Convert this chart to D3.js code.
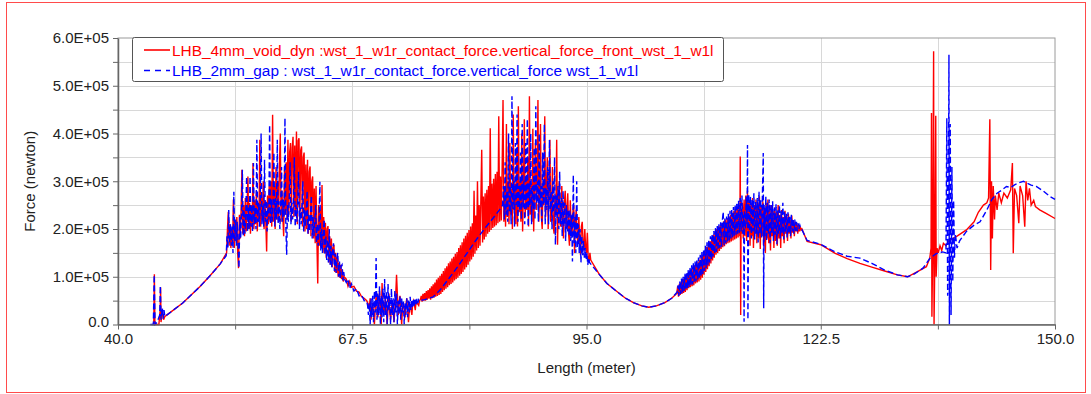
<!DOCTYPE html>
<html>
<head>
<meta charset="utf-8">
<script src="https://cdn.jsdelivr.net/npm/d3@7/dist/d3.min.js"></script>
<style>
  body { margin: 0; background: #fff; }
  svg text { font-family: "Liberation Sans", Arial, sans-serif; }
</style>
</head>
<body>
<svg></svg>
<script>
// length in meter, force in kN (multiplied by 1000 when drawn)
var redSeries = [
  [44.0,0],[44.2,0],[44.27,105],[44.33,0],[44.8,0],[44.95,30],[45.0,78],[45.05,5],[45.2,30],[45.35,10],[45.5,17],[45.6,18],
  [47.6,45],[49.6,79],[50.8,102],[52.0,127],
  [52.75,150],[52.85,200],[52.95,236],[53.05,165],[53.15,210],[53.25,160],[53.35,200],[53.45,170],[53.55,262],[53.65,160],
  [53.75,215],[53.85,175],[53.95,225],[54.05,150],[54.15,118],[54.25,230],[54.35,180],[54.45,240],[54.55,324],[54.65,190],
  [54.75,250],[54.85,185],[54.95,265],[55.05,195],[55.15,240],[55.25,310],[55.35,200],[55.45,255],[55.55,190],[55.65,250],
  [55.75,205],[55.85,338],[55.95,200],[56.05,260],[56.15,210],[56.25,280],[56.35,195],[56.45,255],[56.55,215],[56.65,387],
  [56.75,205],[56.85,265],[56.95,220],[57.05,300],[57.15,200],[57.25,260],[57.35,215],[57.45,153],[57.55,270],[57.65,210],
  [57.75,290],[57.85,215],[57.95,300],[58.05,205],[58.15,439],[58.25,215],[58.35,290],[58.45,200],[58.55,330],[58.65,220],
  [58.75,300],[58.85,215],[58.95,330],[59.05,400],[59.15,215],[59.25,280],[59.35,225],[59.45,185],[59.55,330],[59.65,230],
  [59.75,340],[59.85,220],[59.95,387],[60.05,230],[60.15,360],[60.25,380],[60.35,215],[60.45,370],[60.55,393],[60.65,225],
  [60.75,375],[60.85,230],[60.95,404],[61.05,210],[61.15,385],[61.25,390],[61.35,220],[61.45,365],[61.55,373],[61.65,205],
  [61.75,350],[61.85,360],[61.95,195],[62.05,335],[62.15,200],[62.25,345],[62.35,190],[62.45,320],[62.55,331],[62.65,185],
  [62.75,300],[62.85,310],[62.95,180],[63.05,285],[63.15,170],[63.25,290],[63.35,175],[63.45,86],[63.55,250],[63.65,165],
  [63.75,240],[63.85,160],[63.95,292],[64.05,150],[64.15,225],[64.25,150],[64.35,213],[64.45,140],[64.55,200],[64.65,206],
  [64.75,130],[64.85,185],[64.95,125],[65.05,180],[65.15,120],[65.25,160],[65.35,167],[65.45,110],[65.55,150],[65.65,108],
  [65.75,140],[65.85,100],[65.95,130],[66.05,98],[66.15,125],[66.25,95],[66.35,115],[66.45,90],[66.55,100],
  [66.8,95],[67.0,80],[67.2,90],[67.4,78],[67.7,80],[68.0,70],[68.3,68],[68.6,58],[68.9,55],[69.2,50],
  [69.4,42],[69.5,35],[69.6,55],[69.7,10],[69.8,30],[69.9,45],[70.1,0],[70.2,35],[70.3,60],[70.5,15],[70.6,40],[70.7,70],
  [70.9,0],[71.0,87],[71.1,40],[71.2,20],[71.4,55],[71.5,30],[71.6,0],[71.8,65],[71.9,25],[72.0,10],[72.2,50],[72.3,30],
  [72.4,5],[72.6,60],[72.7,104],[72.9,20],[73.0,45],[73.1,60],[73.3,0],[73.4,35],[73.5,45],[73.7,15],[73.8,40],[73.9,55],
  [74.1,5],[74.2,30],[74.3,40],[74.5,20],[74.6,45],[74.7,50],[74.9,30],[75.0,50],[75.1,45],[75.3,40],[75.4,50],
  [75.5,52],[75.6,60],[75.7,48],[75.8,64],[75.9,50],[76.0,66],[76.1,50],[76.2,70],[76.3,52],[76.4,72],[76.5,54],[76.6,76],
  [76.7,52],[76.8,80],[76.9,55],[77.0,84],[77.1,56],[77.2,88],[77.3,58],[77.4,94],[77.5,60],[77.6,98],[77.7,62],[77.8,102],
  [77.9,64],[78.0,106],[78.1,68],[78.2,112],[78.3,72],[78.4,118],[78.5,75],[78.6,122],[78.7,78],[78.8,128],[78.9,82],
  [79.0,132],[79.1,85],[79.2,138],[79.3,88],[79.4,142],[79.5,92],[79.6,148],[79.7,95],[79.8,152],[79.9,98],[80.0,160],
  [80.1,102],[80.2,166],[80.3,106],[80.4,172],[80.5,110],[80.6,180],[80.7,115],[80.8,186],[80.9,120],[81.0,192],[81.1,125],
  [81.2,198],[81.3,132],[81.4,205],[81.5,136],[81.6,212],[81.7,142],[81.8,280],[81.9,148],[82.0,228],[82.1,155],[82.2,300],
  [82.3,160],[82.4,250],[82.5,165],[82.6,262],[82.7,366],[82.8,172],[82.9,268],[83.0,178],[83.1,275],[83.2,184],[83.3,282],
  [83.4,190],[83.5,290],[83.6,194],[83.7,411],[83.8,198],[83.9,295],[84.0,202],[84.1,305],[84.2,205],[84.3,315],[84.4,208],
  [84.5,320],[84.6,212],[84.7,436],[84.8,215],[84.9,310],[85.0,218],[85.1,330],[85.2,470],
  [85.3,215],[85.4,290],[85.5,205],[85.6,420],[85.7,225],[85.8,300],[85.9,210],[86.0,380],[86.1,230],[86.2,285],[86.3,200],
  [86.4,440],[86.5,240],[86.6,295],[86.7,210],[86.8,360],[86.9,205],[87.0,457],[87.1,235],[87.2,300],[87.3,215],[87.4,400],
  [87.5,195],[87.6,290],[87.7,430],[87.8,225],[87.9,305],[88.0,240],[88.1,350],[88.2,205],[88.3,478],[88.4,230],[88.5,295],
  [88.6,215],[88.7,410],[88.8,195],[88.9,290],[89.0,380],[89.1,240],[89.2,300],[89.3,470],[89.4,215],[89.5,285],[89.6,420],
  [89.7,225],[89.8,200],[89.9,300],[90.0,250],[90.1,436],[90.2,225],[90.3,290],[90.4,350],[90.5,200],[90.6,280],[90.7,387],
  [90.8,215],[90.9,230],[91.0,330],[91.1,205],[91.2,190],[91.3,270],[91.4,230],[91.5,387],[91.6,167],[91.7,260],[91.8,300],
  [91.9,210],[92.0,205],[92.1,290],[92.2,220],[92.3,180],[92.4,255],[92.5,280],[92.6,200],[92.7,240],[92.8,275],[92.9,190],
  [93.0,165],[93.1,260],[93.2,200],[93.3,185],[93.4,235],[93.5,250],[93.6,150],[93.7,220],[93.8,240],[93.9,185],[94.0,170],
  [94.1,225],[94.2,180],[94.3,145],[94.4,205],[94.5,215],[94.6,170],[94.7,155],[94.8,200],[94.9,160],[95.0,150],[95.1,192],
  [95.2,140],[95.3,130],[95.4,150],[95.5,135],
  [96.5,105],[97.4,86],[98.5,70],[99.5,56],[100.5,46],[101.5,39],[102.3,36],[103.2,39],[104.2,46],[105.0,55],
  [105.6,65],[105.7,80],[105.8,58],[105.9,85],[106.0,62],[106.1,90],[106.2,64],[106.3,95],[106.4,66],[106.5,100],[106.6,68],
  [106.7,104],[106.8,72],[106.9,108],[107.0,76],[107.1,112],[107.2,78],[107.3,116],[107.4,80],[107.5,120],[107.6,82],
  [107.7,124],[107.8,86],[107.9,128],[108.0,88],[108.1,132],[108.2,90],[108.3,136],[108.4,94],[108.5,142],[108.6,98],
  [108.7,148],[108.8,104],[108.9,155],[109.0,110],[109.1,162],[109.2,116],[109.3,168],[109.4,122],[109.5,175],[109.6,128],
  [109.7,182],[109.8,134],[109.9,188],[110.0,140],[110.1,194],[110.2,146],[110.3,200],[110.4,150],[110.5,205],[110.6,154],
  [110.7,208],[110.8,158],[110.9,212],[111.0,162],[111.1,216],[111.2,164],[111.3,220],[111.4,168],[111.5,222],[111.6,170],
  [111.7,226],[111.8,172],[111.9,230],[112.0,174],[112.1,234],[112.2,176],[112.3,238],[112.4,178],[112.5,242],[112.6,180],
  [112.7,246],[112.8,182],[112.9,250],[113.0,185],[113.05,352],[113.1,20],[113.15,240],[113.2,190],[113.3,255],[113.4,180],
  [113.5,262],[113.6,185],[113.7,270],[113.8,175],[113.9,280],[114.0,190],[114.1,260],[114.2,165],[114.3,255],[114.4,185],
  [114.5,265],[114.6,160],[114.7,250],[114.8,190],[114.9,262],[115.0,170],[115.1,255],[115.2,180],[115.3,268],[115.4,158],
  [115.5,250],[115.6,185],[115.7,258],[115.8,165],[115.9,245],[116.0,150],[116.1,255],[116.2,180],[116.3,262],[116.4,170],
  [116.5,240],[116.6,155],[116.7,250],[116.8,185],[116.9,238],[117.0,160],[117.1,245],[117.2,175],[117.3,235],[117.4,165],
  [117.5,250],[117.6,180],[117.7,230],[117.8,160],[117.9,240],[118.0,185],[118.1,225],[118.2,170],[118.3,238],[118.4,190],
  [118.5,225],[118.6,175],[118.7,232],[118.8,190],[118.9,220],[119.0,180],[119.1,228],[119.2,192],[119.3,218],[119.4,185],
  [119.5,215],[119.6,195],[119.7,212],[119.8,190],[119.9,208],[120.0,195],[120.1,205],[120.2,198],[120.3,200],
  [120.9,174],[122.5,167],[124.2,149],[125.6,138],[127.1,128],[128.5,120],[130.0,112],[131.5,104],[132.7,100],
  [133.8,110],[134.9,121],[135.3,139],[135.45,160],[135.5,443],[135.55,16],[135.65,170],[135.75,572],[135.8,0],
  [135.9,150],[136.0,437],[136.05,100],[136.15,160],[136.3,150],[136.5,165],[136.7,155],[136.9,170],[137.2,165],
  [137.5,175],[138.5,185],[139.6,198],[140.5,215],[141.0,235],[141.6,250],[142.0,255],[142.2,265],[142.35,430],
  [142.45,114],[142.55,300],[142.65,180],[142.75,290],[142.9,220],[143.0,270],[143.2,240],[143.4,275],[143.7,255],
  [144.0,275],[144.4,265],[144.8,282],[145.0,338],[145.1,149],[145.25,285],[145.5,270],[145.75,212],[145.9,290],
  [146.2,270],[146.45,205],[146.6,300],[146.8,260],[147.0,285],[147.2,250],[147.5,260],[147.7,247],[148.2,240],
  [149.0,232],[150.0,222]
];

var blueSeries = [
  [43.8,0],[44.15,0],[44.25,104],[44.35,0],[44.6,5],[44.9,20],[44.97,81],[45.05,10],[45.2,35],[45.3,12],[45.4,30],
  [45.5,17],[45.6,18],[47.6,45],[49.6,79],[50.8,102],[52.0,127],
  [52.7,144],[52.8,185],[52.9,160],[53.0,240],[53.1,170],[53.2,210],[53.3,165],[53.4,205],[53.5,150],[53.6,278],[53.7,175],
  [53.8,220],[53.9,165],[54.0,215],[54.1,170],[54.2,118],[54.3,225],[54.4,180],[54.5,235],[54.6,324],[54.7,185],[54.8,240],
  [54.9,190],[55.0,230],[55.1,310],[55.2,195],[55.3,245],[55.4,200],[55.5,310],[55.6,205],[55.7,250],[55.8,195],[55.9,338],
  [56.0,210],[56.1,245],[56.2,200],[56.3,387],[56.4,215],[56.5,255],[56.6,205],[56.7,260],[56.8,400],[56.9,210],[57.0,250],
  [57.1,205],[57.2,345],[57.3,215],[57.4,260],[57.5,195],[57.6,255],[57.7,220],[57.8,418],[57.9,210],[58.0,262],[58.1,215],
  [58.2,255],[58.3,360],[58.4,205],[58.5,265],[58.6,220],[58.7,387],[58.8,210],[58.9,258],[59.0,200],[59.1,250],[59.2,330],
  [59.3,215],[59.4,262],[59.5,225],[59.6,432],[59.7,210],[59.8,146],[59.9,250],[60.0,215],[60.1,265],[60.2,340],[60.3,210],
  [60.4,255],[60.5,220],[60.6,262],[60.7,350],[60.8,205],[60.9,250],[61.0,215],[61.1,258],[61.2,320],[61.3,200],[61.4,245],
  [61.5,210],[61.6,250],[61.7,300],[61.8,195],[61.9,240],[62.0,205],[62.1,235],[62.2,280],[62.3,190],[62.4,232],[62.5,195],
  [62.6,228],[62.7,270],[62.8,180],[62.9,225],[63.0,185],[63.1,215],[63.2,250],[63.3,170],[63.4,210],[63.5,165],[63.6,205],
  [63.7,299],[63.8,155],[63.9,200],[64.0,150],[64.1,190],[64.2,220],[64.3,145],[64.4,185],[64.5,135],[64.6,178],[64.7,130],
  [64.8,200],[64.9,125],[65.0,165],[65.1,120],[65.2,158],[65.3,170],[65.4,112],[65.5,148],[65.6,108],[65.7,140],[65.8,150],
  [65.9,100],[66.0,132],[66.1,96],[66.2,122],[66.3,125],[66.4,92],[66.5,110],[66.6,95],
  [66.8,88],[67.0,95],[67.2,75],[67.4,85],[67.7,70],[68.0,75],[68.3,60],[68.6,62],[68.9,50],[69.2,48],
  [69.3,40],[69.4,20],[69.5,45],[69.6,0],[69.7,55],[69.8,15],[69.9,60],[70.0,5],[70.1,70],[70.2,25],[70.3,139],[70.4,10],
  [70.5,65],[70.6,20],[70.7,80],[70.8,0],[70.9,60],[71.0,15],[71.1,75],[71.2,5],[71.3,95],[71.4,20],[71.5,70],[71.6,0],
  [71.7,85],[71.8,30],[71.9,60],[72.0,0],[72.1,75],[72.2,20],[72.3,55],[72.4,5],[72.5,70],[72.6,25],[72.7,65],[72.8,0],
  [72.9,50],[73.0,20],[73.1,60],[73.2,10],[73.3,55],[73.4,25],[73.5,50],[73.6,0],[73.7,45],[73.8,20],[73.9,55],[74.0,15],
  [74.1,50],[74.2,25],[74.3,58],[74.4,30],[74.5,52],[74.6,35],[74.7,55],[74.8,38],[74.9,52],[75.0,42],[75.1,55],[75.2,45],
  [75.3,52],[75.4,50],
  [76.0,52],[77.0,58],[77.8,72],[79.0,100],[80.0,124],[81.0,150],[82.0,176],[83.0,200],[84.0,222],[85.0,245],
  [85.15,250],[85.25,290],[85.35,220],[85.45,340],[85.55,230],[85.65,280],[85.75,215],[85.85,400],[85.95,235],[86.05,290],
  [86.15,210],[86.25,478],[86.35,240],[86.45,300],[86.55,205],[86.65,380],[86.75,250],[86.85,440],[86.95,215],[87.05,290],
  [87.15,240],[87.25,360],[87.35,220],[87.45,420],[87.55,245],[87.65,300],[87.75,210],[87.85,380],[87.95,240],[88.05,430],
  [88.15,205],[88.25,295],[88.35,250],[88.45,400],[88.55,210],[88.65,290],[88.75,240],[88.85,370],[88.95,220],[89.05,457],
  [89.15,255],[89.25,300],[89.35,215],[89.45,400],[89.55,245],[89.65,290],[89.75,215],[89.85,360],[89.95,250],[90.05,420],
  [90.15,210],[90.25,285],[90.35,240],[90.45,330],[90.55,210],[90.65,387],[90.75,240],[90.85,280],[90.95,200],[91.05,300],
  [91.15,235],[91.25,350],[91.35,167],[91.45,270],[91.55,220],[91.65,290],[91.75,200],[91.85,320],[91.95,210],[92.05,265],
  [92.15,185],[92.25,280],[92.35,205],[92.45,255],[92.55,175],[92.65,250],[92.75,195],[92.85,240],[92.95,185],[93.05,240],
  [93.15,175],[93.25,230],[93.35,132],[93.45,313],[93.55,170],[93.65,225],[93.75,150],[93.85,300],[93.95,160],[94.05,210],
  [94.15,150],[94.25,200],[94.35,130],[94.45,185],[94.55,145],[94.65,175],[94.75,140],[94.85,160],[94.95,135],[95.05,150],
  [95.15,125],[95.25,140],[95.35,130],
  [96.5,105],[97.4,86],[98.5,70],[99.5,56],[100.5,46],[101.5,39],[102.3,36],[103.2,39],[104.2,46],[105.0,55],
  [105.65,68],[105.75,82],[105.85,60],[105.95,90],[106.05,64],[106.15,96],[106.25,66],[106.35,100],[106.45,70],[106.55,106],
  [106.65,72],[106.75,110],[106.85,76],[106.95,115],[107.05,78],[107.15,120],[107.25,82],[107.35,124],[107.45,84],[107.55,128],
  [107.65,88],[107.75,132],[107.85,90],[107.95,136],[108.05,94],[108.15,140],[108.25,96],[108.35,146],[108.45,100],
  [108.55,152],[108.65,106],[108.75,158],[108.85,112],[108.95,165],[109.05,118],[109.15,172],[109.25,124],[109.35,178],
  [109.45,130],[109.55,185],[109.65,136],[109.75,190],[109.85,142],[109.95,196],[110.05,148],[110.15,202],[110.25,152],
  [110.35,206],[110.45,156],[110.55,210],[110.65,160],[110.75,214],[110.85,162],[110.95,218],[111.05,236],[111.15,166],
  [111.25,222],[111.35,170],[111.45,226],[111.55,174],[111.65,232],[111.75,176],[111.85,238],[111.95,180],[112.05,242],
  [112.15,182],[112.25,246],[112.35,186],[112.45,250],[112.55,188],[112.65,255],[112.75,190],[112.85,260],[112.95,192],
  [113.05,265],[113.15,195],[113.25,270],[113.35,190],[113.45,230],[113.5,6],[113.55,240],[113.65,200],[113.75,268],
  [113.85,210],[113.9,376],[113.95,10],[114.05,272],[114.15,195],[114.25,268],[114.35,180],[114.45,262],[114.55,195],
  [114.65,275],[114.75,178],[114.85,258],[114.95,190],[115.05,265],[115.15,172],[115.25,278],[115.35,188],[115.45,262],
  [115.55,182],[115.65,270],[115.75,359],[115.8,34],[115.85,250],[115.95,185],[116.05,268],[116.15,175],[116.25,255],
  [116.35,190],[116.45,262],[116.55,170],[116.65,250],[116.75,192],[116.85,258],[116.95,175],[117.05,245],[117.15,188],
  [117.25,252],[117.35,168],[117.45,240],[117.55,190],[117.65,250],[117.75,180],[117.85,238],[117.95,192],[118.05,255],
  [118.15,178],[118.25,236],[118.35,192],[118.45,232],[118.55,182],[118.65,235],[118.75,190],[118.85,228],[118.95,185],
  [119.05,230],[119.15,195],[119.25,222],[119.35,190],[119.45,220],[119.55,196],[119.65,215],[119.75,195],[119.85,212],
  [119.95,200],[120.05,208],[120.15,202],[120.25,200],
  [120.9,176],[122.5,168],[124.2,152],[125.6,143],[127.1,139],[128.5,128],[130.0,114],[131.5,104],[132.7,100],
  [133.5,106],[134.5,118],[135.3,138],[136.0,148],[136.8,152],[137.2,150],[137.3,432],[137.4,60],[137.5,300],
  [137.55,565],[137.6,0],[137.7,420],[137.8,20],[137.9,330],[138.0,90],[138.1,260],[138.2,140],[138.3,190],
  [138.5,160],[138.8,175],[139.6,195],[140.5,208],[141.2,215],[142.0,240],[142.6,262],[143.2,275],[143.8,282],
  [144.3,289],[144.8,287],[145.3,293],[145.8,297],[146.3,300],[146.7,296],[147.2,292],[147.8,289],[148.6,280],
  [149.4,268],[150.0,262]
];

var xTickValues = [40, 67.5, 95, 122.5, 150];
var xTickLabels = ["40.0", "67.5", "95.0", "122.5", "150.0"];
var yTickValues = [0, 100000, 200000, 300000, 400000, 500000, 600000];
var yTickLabels = ["0.0", "1.0E+05", "2.0E+05", "3.0E+05", "4.0E+05", "5.0E+05", "6.0E+05"];

var legendLabels = [
  "LHB_4mm_void_dyn :wst_1_w1r_contact_force.vertical_force_front_wst_1_w1l",
  "LHB_2mm_gap : wst_1_w1r_contact_force.vertical_force wst_1_w1l"
];

var width = 1091;
var height = 394;
var plotLeft = 118, plotRight = 1055, plotTop = 38, plotBottom = 324.5;

var x = d3.scaleLinear().domain([40, 150]).range([plotLeft, plotRight]);
var y = d3.scaleLinear().domain([0, 600000]).range([plotBottom, plotTop]);

var svg = d3.select("svg").attr("width", width).attr("height", height);

// outer red frame
svg.append("rect")
  .attr("x", 6.5).attr("y", 2.5)
  .attr("width", 1079).attr("height", 390)
  .attr("fill", "none")
  .attr("stroke", "#ff4b4b")
  .attr("stroke-width", 1);

// grid: minor every half step
var xGrid = d3.range(40, 150.01, 13.75);
var yGrid = d3.range(0, 600001, 50000);

var grid = svg.append("g").attr("class", "grid");
grid.selectAll("line.v")
  .data(xGrid.slice(1, -1))
  .enter().append("line")
  .attr("x1", function(d) { return Math.round(x(d)) + 0.5; })
  .attr("x2", function(d) { return Math.round(x(d)) + 0.5; })
  .attr("y1", plotTop).attr("y2", plotBottom)
  .attr("stroke", "#d8d8d8");
grid.selectAll("line.h")
  .data(yGrid.slice(1, -1))
  .enter().append("line")
  .attr("y1", function(d) { return Math.round(y(d)) + 0.5; })
  .attr("y2", function(d) { return Math.round(y(d)) + 0.5; })
  .attr("x1", plotLeft).attr("x2", plotRight)
  .attr("stroke", "#d8d8d8");

// plot frame
svg.append("rect")
  .attr("x", plotLeft).attr("y", plotTop)
  .attr("width", plotRight - plotLeft).attr("height", plotBottom - plotTop)
  .attr("fill", "none")
  .attr("stroke", "#9a9a9a");

var line = d3.line()
  .x(function(d) { return x(d[0]); })
  .y(function(d) { return y(d[1] * 1000); });

var lines = svg.append("g");
lines.append("path")
  .datum(redSeries)
  .attr("d", line)
  .attr("fill", "none")
  .attr("stroke", "#ff0000")
  .attr("stroke-width", 1.4);
lines.append("path")
  .datum(blueSeries)
  .attr("d", line)
  .attr("fill", "none")
  .attr("stroke", "#0000ff")
  .attr("stroke-width", 1.4)
  .attr("stroke-dasharray", "6,3");

// axes
var yAxis = d3.axisLeft(y)
  .tickValues(yGrid)
  .tickSize(5)
  .tickSizeOuter(0)
  .tickPadding(4)
  .tickFormat(function(d) {
    var i = yTickValues.indexOf(d);
    return i >= 0 ? yTickLabels[i] : "";
  });

var xAxis = d3.axisBottom(x)
  .tickValues(xGrid)
  .tickSize(5)
  .tickSizeOuter(0)
  .tickPadding(4)
  .tickFormat(function(d) {
    var i = xTickValues.indexOf(d);
    return i >= 0 ? xTickLabels[i] : "";
  });

var gy = svg.append("g")
  .attr("transform", "translate(" + plotLeft + ",0)")
  .call(yAxis);
var gx = svg.append("g")
  .attr("transform", "translate(0," + plotBottom + ")")
  .call(xAxis);

[gx, gy].forEach(function(g) {
  g.attr("font-family", null).attr("font-size", null);
  g.select(".domain").attr("stroke", "#666").attr("stroke-width", 1.5);
  g.selectAll(".tick line").attr("stroke", "#666");
  g.selectAll(".tick text").attr("fill", "#222").style("font-size", "15px");
});
gy.selectAll(".tick text")
  .filter(function(d) { return d === 0; })
  .attr("dy", "0.1em");

// axis titles
svg.append("text")
  .attr("x", (plotLeft + plotRight) / 2)
  .attr("y", 373)
  .attr("text-anchor", "middle")
  .attr("fill", "#222")
  .style("font-size", "15px")
  .text("Length (meter)");

svg.append("text")
  .attr("transform", "translate(35," + ((plotTop + plotBottom) / 2) + ") rotate(-90)")
  .attr("text-anchor", "middle")
  .attr("fill", "#222")
  .style("font-size", "15px")
  .text("Force (newton)");

// legend
var legend = svg.append("g").attr("class", "legend");
legend.append("rect")
  .attr("x", 132.5).attr("y", 37.5)
  .attr("width", 591).attr("height", 44)
  .attr("rx", 2)
  .attr("fill", "#fff")
  .attr("stroke", "#555");

var legendColors = ["#ff0000", "#0000ff"];
var legendDash = [null, "6,5"];
legendLabels.forEach(function(label, i) {
  var row = legend.append("g")
    .attr("transform", "translate(144," + (50 + i * 20.5) + ")");
  row.append("line")
    .attr("x1", 0).attr("x2", 26)
    .attr("stroke", legendColors[i])
    .attr("stroke-width", 1.6)
    .attr("stroke-dasharray", legendDash[i]);
  row.append("text")
    .attr("x", 28)
    .attr("y", 5.5)
    .attr("fill", legendColors[i])
    .style("font-size", "15.4px")
    .text(label);
});
</script>
</body>
</html>
